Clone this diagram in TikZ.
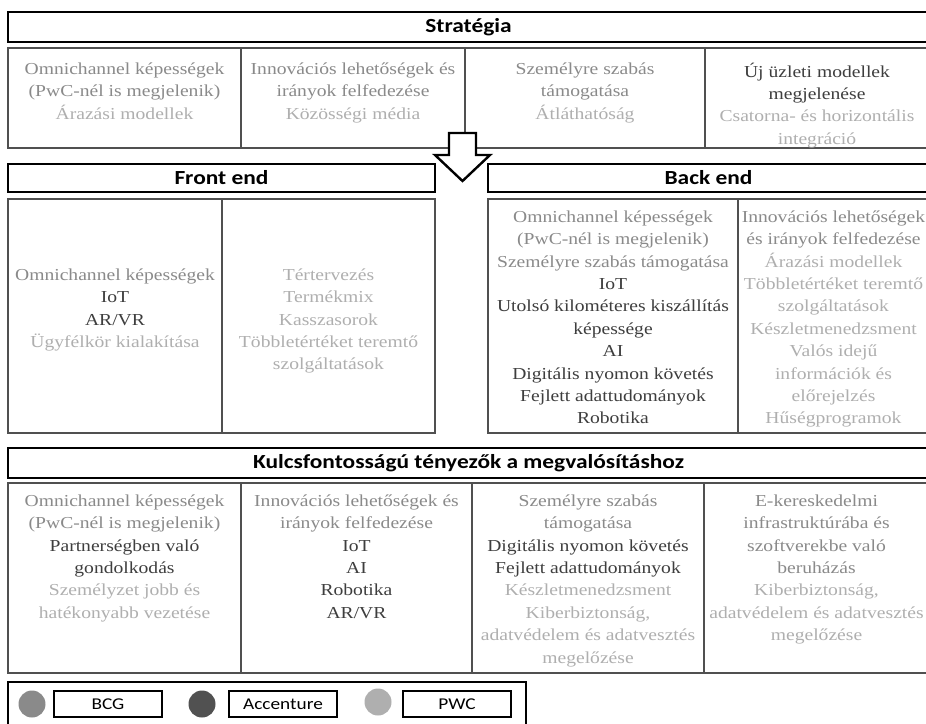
\documentclass[tikz,border=0pt]{standalone}
\usepackage{fontspec}
\setmainfont{Liberation Serif}[FakeStretch=1.17]
\newfontfamily\hdfont{Carlito}[FakeStretch=1.17]
\usepackage{xcolor}
\definecolor{bcg}{RGB}{138,138,138}
\definecolor{acc}{RGB}{62,62,62}
\definecolor{pwc}{RGB}{175,175,175}
\definecolor{rulegray}{RGB}{80,80,80}
\newcommand\txbcg[1]{\textcolor{bcg}{#1}}
\newcommand\txacc[1]{\textcolor{acc}{#1}}
\newcommand\txpwc[1]{\textcolor{pwc}{#1}}

\begin{document}
\begin{tikzpicture}[x=1pt,y=-1pt,line join=miter,
  hdbox/.style={draw=black,line width=2.6pt,inner sep=0pt,font=\hdfont\bfseries\fontsize{20}{24}\selectfont},
  celltxt/.style={anchor=north,align=center,inner sep=0pt,font=\fontsize{16.75}{22.4}\selectfont,execute at begin node=\rule{0pt}{16pt}},
  tabline/.style={draw=rulegray,line width=1.3pt},
  legbox/.style={draw=black,line width=2.4pt,inner sep=0pt,minimum width=108,minimum height=26,font=\hdfont\fontsize{16.5}{18}\selectfont}]
\useasboundingbox (0,0) rectangle (926,723);
\clip (0,0) rectangle (926,723);
\fill[white] (0,0) rectangle (926,723);
\node[hdbox,minimum width=921,minimum height=30] (strat) at (468.5,27) {Stratégia};
\draw[tabline] (8,48) rectangle (929,148);
\draw[tabline] (241,48) -- (241,148) (465,48) -- (465,148) (705,48) -- (705,148);
\node[celltxt] (s1) at (124.5,62.5) {\txbcg{Omnichannel képességek}\\ \txbcg{(PwC-nél is megjelenik)}\\ \txpwc{Árazási modellek}};
\node[celltxt] (s2) at (353,62.5) {\txbcg{Innovációs lehetőségek és}\\ \txbcg{irányok felfedezése}\\ \txpwc{Közösségi média}};
\node[celltxt] (s3) at (585,62.5) {\txbcg{Személyre szabás}\\ \txbcg{támogatása}\\ \txpwc{Átláthatóság}};
\node[celltxt] (s4) at (817,62.5) {\txacc{Új üzleti modellek}\\ \txacc{megjelenése}\\ \txpwc{Csatorna- és horizontális}\\ \txpwc{integráció}};
\draw[line width=2.4pt,fill=white] (449,133) -- (476,133) -- (476,155) -- (490,155) -- (462.5,181) -- (435,155) -- (449,155) -- cycle;
\node[hdbox,minimum width=427,minimum height=28] (front) at (221.5,178) {Front end};
\node[hdbox,minimum width=441,minimum height=28] (back) at (708.5,178) {Back end};
\draw[tabline] (8,199) rectangle (435,433);
\draw[tabline] (222,199) -- (222,433);
\draw[tabline] (488,199) rectangle (929,433);
\draw[tabline] (738,199) -- (738,433);
\node[celltxt] (f1) at (115,268.5) {\txbcg{Omnichannel képességek}\\ \txacc{IoT}\\ \txacc{AR/VR}\\ \txpwc{Ügyfélkör kialakítása}};
\node[celltxt] (f2) at (328.5,268.5) {\txpwc{Tértervezés}\\ \txpwc{Termékmix}\\ \txpwc{Kasszasorok}\\ \txpwc{Többletértéket teremtő}\\ \txpwc{szolgáltatások}};
\node[celltxt] (b1) at (613,210.5) {\txbcg{Omnichannel képességek}\\ \txbcg{(PwC-nél is megjelenik)}\\ \txbcg{Személyre szabás támogatása}\\ \txacc{IoT}\\ \txacc{Utolsó kilométeres kiszállítás}\\ \txacc{képessége}\\ \txacc{AI}\\ \txacc{Digitális nyomon követés}\\ \txacc{Fejlett adattudományok}\\ \txacc{Robotika}};
\node[celltxt] (b2) at (833.5,210.5) {\txbcg{Innovációs lehetőségek}\\ \txbcg{és irányok felfedezése}\\ \txpwc{Árazási modellek}\\ \txpwc{Többletértéket teremtő}\\ \txpwc{szolgáltatások}\\ \txpwc{Készletmenedzsment}\\ \txpwc{Valós idejű}\\ \txpwc{információk és}\\ \txpwc{előrejelzés}\\ \txpwc{Hűségprogramok}};
\node[hdbox,minimum width=921,minimum height=30] (kulcs) at (468.5,463) {Kulcsfontosságú tényezők a megvalósításhoz};
\draw[tabline] (8,483) rectangle (929,673);
\draw[tabline] (241,483) -- (241,673) (472,483) -- (472,673) (704,483) -- (704,673);
\node[celltxt] (k1) at (124.5,494.5) {\txbcg{Omnichannel képességek}\\ \txbcg{(PwC-nél is megjelenik)}\\ \txacc{Partnerségben való}\\ \txacc{gondolkodás}\\ \txpwc{Személyzet jobb és}\\ \txpwc{hatékonyabb vezetése}};
\node[celltxt] (k2) at (356.5,494.5) {\txbcg{Innovációs lehetőségek és}\\ \txbcg{irányok felfedezése}\\ \txacc{IoT}\\ \txacc{AI}\\ \txacc{Robotika}\\ \txacc{AR/VR}};
\node[celltxt] (k3) at (588,494.5) {\txbcg{Személyre szabás}\\ \txbcg{támogatása}\\ \txacc{Digitális nyomon követés}\\ \txacc{Fejlett adattudományok}\\ \txpwc{Készletmenedzsment}\\ \txpwc{Kiberbiztonság,}\\ \txpwc{adatvédelem és adatvesztés}\\ \txpwc{megelőzése}};
\node[celltxt] (k4) at (816.5,494.5) {\txbcg{E-kereskedelmi}\\ \txbcg{infrastruktúrába és}\\ \txbcg{szoftverekbe való}\\ \txbcg{beruházás}\\ \txpwc{Kiberbiztonság,}\\ \txpwc{adatvédelem és adatvesztés}\\ \txpwc{megelőzése}};
\draw[line width=2.6pt] (8,682) rectangle (526,740);
\node[circle,fill=bcg,minimum size=27,inner sep=0pt] (cbcg) at (32,704) {};
\node[legbox] (lbcg) at (108,704) {BCG};
\node[circle,fill=acc!90,minimum size=27,inner sep=0pt] (cacc) at (202,704) {};
\node[legbox] (lacc) at (283,704) {Accenture};
\node[circle,fill=pwc,minimum size=27,inner sep=0pt] (cpwc) at (378,702) {};
\node[legbox] (lpwc) at (457,704) {PWC};
\end{tikzpicture}
\end{document}
